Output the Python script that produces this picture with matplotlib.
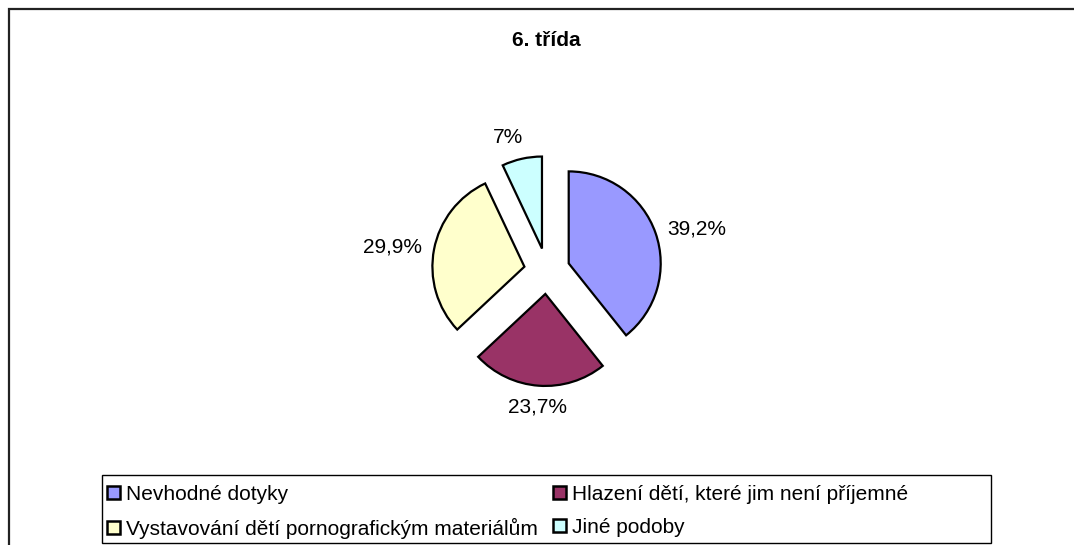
import numpy as np
import matplotlib
matplotlib.use("Agg")
import matplotlib.pyplot as plt
from matplotlib.patches import Patch, Rectangle

plt.rcParams['font.family'] = ['Liberation Sans', 'DejaVu Sans']

title = "6. třída"
categories = ["Nevhodné dotyky",
              "Hlazení dětí, které jim není příjemné",
              "Vystavování dětí pornografickým materiálům",
              "Jiné podoby"]
values = [39.2, 23.7, 29.9, 7.0]
value_labels = ["39,2%", "23,7%", "29,9%", "7%"]
colors = ["#9999FF", "#993366", "#FFFFCC", "#CCFFFF"]

W, H, DPI = 1074, 545, 100
fig = plt.figure(figsize=(W / DPI, H / DPI), dpi=DPI)

# pie axes covering the full figure, 1 data unit = radius in pixels
R = 92.0
cx, cy = 547.0, 271.0
ax = fig.add_axes([0, 0, 1, 1])

explode = [0.25] * len(values)
wedges, _ = ax.pie(values, colors=colors, explode=explode, startangle=90,
                   counterclock=False, radius=1.0,
                   wedgeprops=dict(edgecolor='black', linewidth=1.6))
ax.set_xlim(-cx / R, (W - cx) / R)
ax.set_ylim(-(H - cy) / R, cy / R)
ax.set_aspect('equal')
ax.axis('off')

for w, lab, ex in zip(wedges, value_labels, explode):
    ang = np.deg2rad((w.theta1 + w.theta2) / 2)
    c, s = np.cos(ang), np.sin(ang)
    d = 1.0 + ex + 0.13
    ha = 'left' if c > 0.4 else ('right' if c < -0.4 else 'center')
    va = 'bottom' if s > 0.6 else ('top' if s < -0.6 else 'center')
    # nudge the label above the pie a bit sideways, as Excel does
    xoff = 0.12 * np.sign(c) if (ha == 'center' and va == 'bottom') else 0.0
    ax.text(d * c + xoff, d * s, lab, ha=ha, va=va, fontsize=15,
            color='black')

fig.text(546 / W, 1 - 40 / H, title, ha='center', va='center',
         fontsize=15, fontweight='bold')

# outer chart frame (extends beyond right/bottom)
fig.patches.append(Rectangle((9 / W, -0.02), 1.05, 1 + 0.02 - 9 / H,
                             transform=fig.transFigure, fill=False,
                             edgecolor='#222222', linewidth=1.6))

# legend frame
lx0, lx1, ly0, ly1 = 102, 991, 475, 543
fig.patches.append(Rectangle((lx0 / W, 1 - ly1 / H), (lx1 - lx0) / W,
                             (ly1 - ly0) / H, transform=fig.transFigure,
                             fill=False, edgecolor='black', linewidth=1.0))

# Excel fills the legend row by row
order = [0, 2, 1, 3]
handles = [Patch(facecolor=colors[i], edgecolor='black', linewidth=1.8)
           for i in order]
labels = [categories[i] for i in order]
leg = fig.legend(handles, labels, ncol=2, loc='upper left',
                 bbox_to_anchor=(107 / W, 1 - 485 / H),
                 frameon=False, fontsize=15, handlelength=0.6,
                 handleheight=0.6, handletextpad=0.32, columnspacing=0.72,
                 labelspacing=0.66, borderpad=0.0, borderaxespad=0.0)

fig.savefig("out.png", dpi=DPI, facecolor='white')
